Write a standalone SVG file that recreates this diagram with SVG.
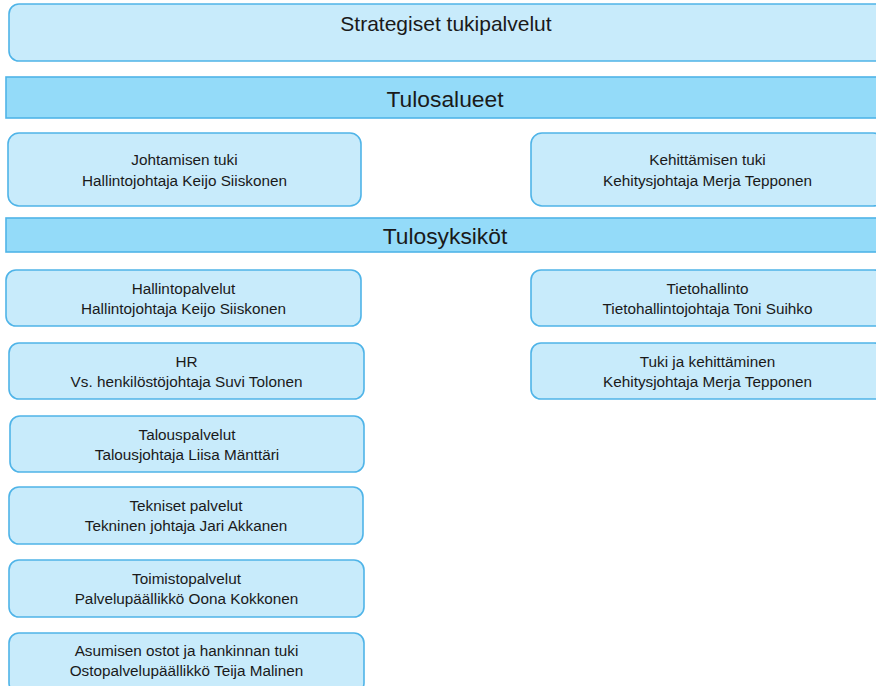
<svg xmlns="http://www.w3.org/2000/svg" width="876" height="686" viewBox="0 0 876 686">
<style>
.box{fill:#c8ebfb;stroke:#4fb4e8;stroke-width:1.6}
.bar{fill:#94dbf9;stroke:#4fb4e8;stroke-width:1.6}
text{font-family:"Liberation Sans",Arial,sans-serif;fill:#1a1a1a;text-anchor:middle}
.t{font-size:15.3px}
.h{font-size:22.8px}
.s{font-size:21px}
</style>
<rect width="876" height="686" fill="#ffffff"/>
<g id="strategiset"><rect class="box" x="9" y="4" width="876" height="57" rx="10"/><text class="s" x="446" y="31">Strategiset tukipalvelut</text></g>
<g id="tulosalueet"><rect class="bar" x="6" y="77" width="880" height="41"/><text class="h" x="445" y="107">Tulosalueet</text></g>
<g id="johtamisen"><rect class="box" x="8" y="133" width="353" height="73" rx="11"/><text class="t" x="184.5" y="165">Johtamisen tuki</text><text class="t" x="184.5" y="186">Hallintojohtaja Keijo Siiskonen</text></g>
<g id="kehittamisen"><rect class="box" x="531" y="133" width="353" height="73" rx="11"/><text class="t" x="707.5" y="165">Kehittämisen tuki</text><text class="t" x="707.5" y="186">Kehitysjohtaja Merja Tepponen</text></g>
<g id="tulosyksikot"><rect class="bar" x="6" y="218" width="880" height="34"/><text class="h" x="445" y="244">Tulosyksiköt</text></g>
<g id="hallintopalvelut"><rect class="box" x="6" y="270" width="355" height="56" rx="10"/><text class="t" x="183.5" y="294">Hallintopalvelut</text><text class="t" x="183.5" y="314">Hallintojohtaja Keijo Siiskonen</text></g>
<g id="tietohallinto"><rect class="box" x="531" y="270" width="353" height="56" rx="10"/><text class="t" x="707.5" y="294">Tietohallinto</text><text class="t" x="707.5" y="314">Tietohallintojohtaja Toni Suihko</text></g>
<g id="hr"><rect class="box" x="9" y="343" width="355" height="56" rx="10"/><text class="t" x="186.5" y="367">HR</text><text class="t" x="186.5" y="387">Vs. henkilöstöjohtaja Suvi Tolonen</text></g>
<g id="tuki"><rect class="box" x="531" y="343" width="353" height="56" rx="10"/><text class="t" x="707.5" y="367">Tuki ja kehittäminen</text><text class="t" x="707.5" y="387">Kehitysjohtaja Merja Tepponen</text></g>
<g id="talous"><rect class="box" x="10" y="416" width="354" height="56" rx="10"/><text class="t" x="187" y="440">Talouspalvelut</text><text class="t" x="187" y="460">Talousjohtaja Liisa Mänttäri</text></g>
<g id="tekniset"><rect class="box" x="9" y="487" width="354" height="57" rx="10"/><text class="t" x="186" y="511">Tekniset palvelut</text><text class="t" x="186" y="531">Tekninen johtaja Jari Akkanen</text></g>
<g id="toimisto"><rect class="box" x="9" y="560" width="355" height="57" rx="10"/><text class="t" x="186.5" y="584">Toimistopalvelut</text><text class="t" x="186.5" y="604">Palvelupäällikkö Oona Kokkonen</text></g>
<g id="asumisen"><rect class="box" x="9" y="633" width="355" height="60" rx="10"/><text class="t" x="186.5" y="656">Asumisen ostot ja hankinnan tuki</text><text class="t" x="186.5" y="676">Ostopalvelupäällikkö Teija Malinen</text></g>
<g id="connectors"></g>
</svg>
